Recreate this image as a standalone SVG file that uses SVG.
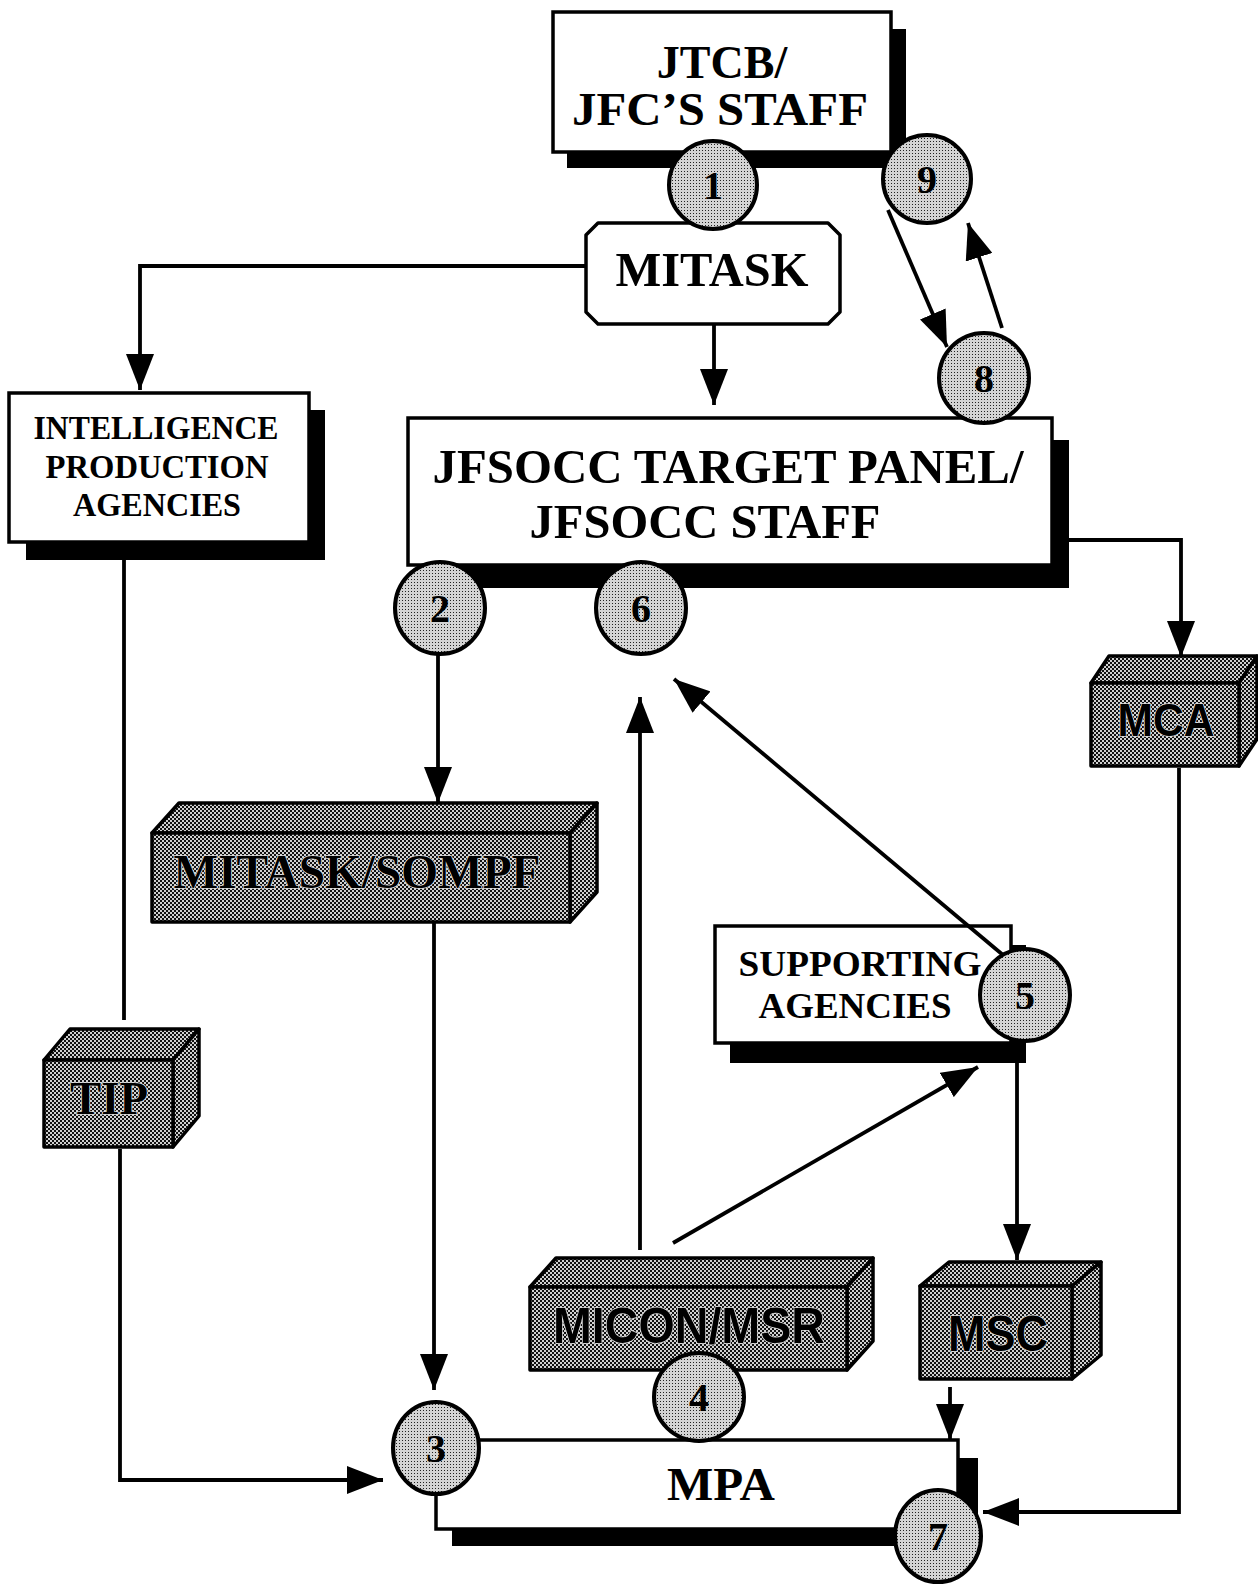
<svg xmlns="http://www.w3.org/2000/svg" width="1258" height="1589" viewBox="0 0 1258 1589">
<defs>
<pattern id="dots" width="3" height="3" patternUnits="userSpaceOnUse">
<rect width="3" height="3" fill="#d4d4d4"/>
<rect x="0" y="0" width="1" height="1" fill="#222"/>
</pattern>
<pattern id="checker" width="4" height="4" patternUnits="userSpaceOnUse">
<rect width="4" height="4" fill="#d0d0d0"/>
<rect x="0" y="0" width="2" height="2" fill="#111"/>
<rect x="2" y="2" width="2" height="2" fill="#111"/>
</pattern>
<marker id="ah" markerUnits="userSpaceOnUse" markerWidth="36" markerHeight="28" refX="36" refY="14" orient="auto" viewBox="0 0 36 28">
<path d="M0,0 L36,14 L0,28 z" fill="#000"/>
</marker>
</defs>
<style>
.box{fill:#fff;stroke:#000;stroke-width:3.5}
.shadow{fill:#000}
.circ{fill:url(#dots);stroke:#000;stroke-width:4}
.cube{fill:url(#checker);stroke:#000;stroke-width:3.5;stroke-linejoin:round}
.serif{font-family:"Liberation Serif","Times New Roman",serif;font-weight:bold;fill:#000;text-anchor:middle}
.sans{font-family:"Liberation Sans",Arial,sans-serif;font-weight:bold;fill:#000;text-anchor:middle}
.cubet{stroke:#e0e0e0;stroke-width:1.5;paint-order:stroke}
.num{font-family:"Liberation Serif","Times New Roman",serif;font-weight:bold;font-size:40px;fill:#000;text-anchor:middle}
.conn{fill:none;stroke:#000;stroke-width:3.8}
</style>
<rect width="1258" height="1589" fill="#fff"/>

<g id="jtcb">
<rect class="shadow" x="567" y="29" width="339" height="139"/>
<rect class="box" x="553" y="12" width="338" height="140"/>
<text class="serif" x="722" y="78" font-size="46">JTCB/</text>
<text class="serif" x="720" y="125" font-size="46" textLength="296" lengthAdjust="spacingAndGlyphs">JFC’S STAFF</text>
</g>

<g id="mitask">
<path class="box" d="M598,223 H828 L840,235 V312 L828,324 H598 L586,312 V235 Z" stroke-linejoin="round"/>
<text class="serif" x="712" y="286" font-size="48" textLength="193" lengthAdjust="spacingAndGlyphs">MITASK</text>
</g>

<g id="n1">
<circle class="circ" cx="713" cy="185" r="44"/>
<text class="num" x="713" y="199">1</text>
</g>

<g id="n9">
<circle class="circ" cx="927" cy="179" r="44"/>
<text class="num" x="927" y="193">9</text>
</g>

<g id="intel">
<rect class="shadow" x="26" y="410" width="299" height="150"/>
<rect class="box" x="9" y="393" width="300" height="149"/>
<text class="serif" x="156" y="439" font-size="34" textLength="245" lengthAdjust="spacingAndGlyphs">INTELLIGENCE</text>
<text class="serif" x="157" y="478" font-size="34" textLength="223" lengthAdjust="spacingAndGlyphs">PRODUCTION</text>
<text class="serif" x="157" y="516" font-size="34" textLength="168" lengthAdjust="spacingAndGlyphs">AGENCIES</text>
</g>

<g id="jfsocc">
<rect class="shadow" x="425" y="440" width="644" height="148"/>
<rect class="box" x="408" y="418" width="644" height="147"/>
<text class="serif" x="728" y="483" font-size="48" textLength="591" lengthAdjust="spacingAndGlyphs">JFSOCC TARGET PANEL/</text>
<text class="serif" x="705" y="538" font-size="48" textLength="351" lengthAdjust="spacingAndGlyphs">JFSOCC STAFF</text>
</g>

<g id="n8">
<circle class="circ" cx="984" cy="378" r="45"/>
<text class="num" x="984" y="392">8</text>
</g>

<g id="n2">
<ellipse class="circ" cx="440" cy="608" rx="45" ry="46"/>
<text class="num" x="440" y="622">2</text>
</g>

<g id="n6">
<ellipse class="circ" cx="641" cy="608" rx="45" ry="46"/>
<text class="num" x="641" y="622">6</text>
</g>

<g id="mca">
<path class="cube" d="M1091,683 L1109,656 H1257 L1239,683 Z"/>
<path class="cube" d="M1239,683 L1257,656 V739 L1239,766 Z"/>
<rect class="cube" x="1091" y="683" width="148" height="83"/>
<text class="sans cubet" x="1166" y="736" font-size="46" textLength="97" lengthAdjust="spacingAndGlyphs">MCA</text>
</g>

<g id="sompf">
<path class="cube" d="M152,833 L179,803 H597 L570,833 Z"/>
<path class="cube" d="M570,833 L597,803 V892 L570,922 Z"/>
<rect class="cube" x="152" y="833" width="418" height="89"/>
<text class="serif cubet" x="357" y="888" font-size="48" textLength="367" lengthAdjust="spacingAndGlyphs">MITASK/SOMPF</text>
</g>

<g id="tip">
<path class="cube" d="M44,1060 L70,1029 H199 L173,1060 Z"/>
<path class="cube" d="M173,1060 L199,1029 V1116 L173,1147 Z"/>
<rect class="cube" x="44" y="1060" width="129" height="87"/>
<text class="serif cubet" x="109" y="1114" font-size="46" textLength="78" lengthAdjust="spacingAndGlyphs">TIP</text>
</g>

<g id="supporting">
<rect class="shadow" x="730" y="945" width="296" height="118"/>
<rect class="box" x="715" y="926" width="296" height="117"/>
<text class="serif" x="860" y="976" font-size="36" textLength="243" lengthAdjust="spacingAndGlyphs">SUPPORTING</text>
<text class="serif" x="855" y="1018" font-size="36" textLength="193" lengthAdjust="spacingAndGlyphs">AGENCIES</text>
</g>

<g id="n5">
<ellipse class="circ" cx="1025" cy="995" rx="45" ry="46"/>
<text class="num" x="1025" y="1009">5</text>
</g>

<g id="micon">
<path class="cube" d="M530,1287 L556,1258 H873 L847,1287 Z"/>
<path class="cube" d="M847,1287 L873,1258 V1341 L847,1370 Z"/>
<rect class="cube" x="530" y="1287" width="317" height="83"/>
<text class="sans cubet" x="689" y="1343" font-size="50" textLength="272" lengthAdjust="spacingAndGlyphs">MICON/MSR</text>
</g>

<g id="msc">
<path class="cube" d="M920,1286 L949,1262 H1101 L1072,1286 Z"/>
<path class="cube" d="M1072,1286 L1101,1262 V1355 L1072,1379 Z"/>
<rect class="cube" x="920" y="1286" width="152" height="93"/>
<text class="sans cubet" x="998" y="1351" font-size="50" textLength="100" lengthAdjust="spacingAndGlyphs">MSC</text>
</g>

<g id="mpa">
<rect class="shadow" x="452" y="1458" width="526" height="88"/>
<rect class="box" x="436" y="1440" width="522" height="89"/>
<text class="serif" x="721" y="1500" font-size="46" textLength="108" lengthAdjust="spacingAndGlyphs">MPA</text>
</g>

<g id="n4">
<ellipse class="circ" cx="699" cy="1397" rx="45" ry="44"/>
<text class="num" x="699" y="1411">4</text>
</g>

<g id="n3">
<ellipse class="circ" cx="436" cy="1448" rx="43" ry="46"/>
<text class="num" x="436" y="1462">3</text>
</g>

<g id="n7">
<ellipse class="circ" cx="938" cy="1536" rx="43" ry="46"/>
<text class="num" x="938" y="1550">7</text>
</g>

<g id="connectors">
<path class="conn" d="M587,266 H140 V390" marker-end="url(#ah)"/>
<path class="conn" d="M714,324 V405" marker-end="url(#ah)"/>
<path class="conn" d="M888,210 L947,347" marker-end="url(#ah)"/>
<path class="conn" d="M1002,328 L968,223" marker-end="url(#ah)"/>
<path class="conn" d="M1069,540 H1181 V657" marker-end="url(#ah)"/>
<path class="conn" d="M438,654 V803" marker-end="url(#ah)"/>
<path class="conn" d="M434,922 V1390" marker-end="url(#ah)"/>
<path class="conn" d="M124,560 V1020"/>
<path class="conn" d="M120,1149 V1480 H383" marker-end="url(#ah)"/>
<path class="conn" d="M640,1250 V697" marker-end="url(#ah)"/>
<path class="conn" d="M673,1243 L978,1067" marker-end="url(#ah)"/>
<path class="conn" d="M1003,955 L674,679" marker-end="url(#ah)"/>
<path class="conn" d="M1017,1063 V1260" marker-end="url(#ah)"/>
<path class="conn" d="M950,1387 V1440" marker-end="url(#ah)"/>
<path class="conn" d="M1179,768 V1512 H983" marker-end="url(#ah)"/>
</g>
</svg>
